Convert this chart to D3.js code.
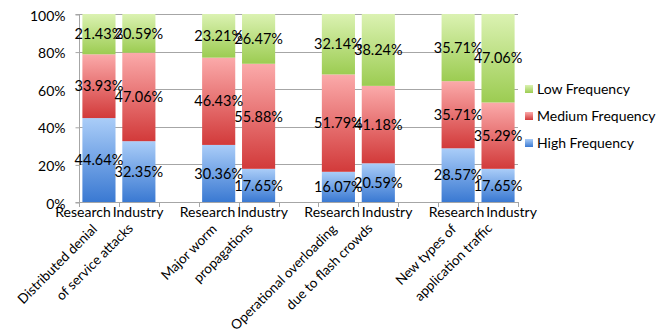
<!DOCTYPE html>
<html>
<head>
<meta charset="utf-8">
<script src="https://cdn.jsdelivr.net/npm/d3@7"></script>
<style>
  html, body { margin: 0; padding: 0; background: #fff; }
  svg text { font-family: Lato, "Open Sans", sans-serif; fill: #000; }
</style>
</head>
<body>
<svg id="chart" width="665" height="334"></svg>
<script>
// Survey categories (two lines each for the rotated axis labels)
const categories = [
  ["Distributed denial", "of service attacks"],
  ["Major worm", "propagations"],
  ["Operational overloading", "due to flash crowds"],
  ["New types of", "application traffic"]
];
const groups = ["Research", "Industry"];
const seriesNames = ["High Frequency", "Medium Frequency", "Low Frequency"];

// Percentages per category, Research then Industry
const highFreq   = [[44.64, 32.35], [30.36, 17.65], [16.07, 20.59], [28.57, 17.65]];
const mediumFreq = [[33.93, 47.06], [46.43, 55.88], [51.79, 41.18], [35.71, 35.29]];
const lowFreq    = [[21.43, 20.59], [23.21, 26.47], [32.14, 38.24], [35.71, 47.06]];

const yTicks = [0, 20, 40, 60, 80, 100];

const svg = d3.select("#chart");
const plotLeft = 79, plotRight = 518, plotTop = 14, plotBottom = 202;

// Flatten into one row per bar
const rows = [];
categories.forEach((c, ci) => {
  groups.forEach((g, gi) => {
    rows.push({
      cat: ci, group: g,
      "High Frequency": highFreq[ci][gi],
      "Medium Frequency": mediumFreq[ci][gi],
      "Low Frequency": lowFreq[ci][gi]
    });
  });
});

const x0 = d3.scaleBand().domain(d3.range(categories.length))
  .range([plotLeft, plotRight]).paddingInner(1 / 3).paddingOuter(0);
const x1 = d3.scaleBand().domain(groups)
  .range([0, x0.bandwidth()]).paddingInner(0.17).paddingOuter(0.085);
const slot = x0.bandwidth() / 2;
const y = d3.scaleLinear().domain([0, 100]).range([plotBottom, plotTop]);

const colors = {
  "Low Frequency": ["#dbf2b2", "#9ccc52"],
  "Medium Frequency": ["#fbaaaa", "#d23a3a"],
  "High Frequency": ["#aacdf8", "#3a79d2"]
};

const defs = svg.append("defs");
seriesNames.forEach((s, i) => {
  const gr = defs.append("linearGradient").attr("id", "grad" + i)
    .attr("x1", 0).attr("y1", 0).attr("x2", 0).attr("y2", 1);
  gr.append("stop").attr("offset", "0%").attr("stop-color", colors[s][0]);
  gr.append("stop").attr("offset", "100%").attr("stop-color", colors[s][1]);
});

// Gridlines
svg.append("g").selectAll("line").data(yTicks.filter(d => d > 0)).join("line")
  .attr("x1", plotLeft).attr("x2", plotRight)
  .attr("y1", d => Math.round(y(d)) + 0.5).attr("y2", d => Math.round(y(d)) + 0.5)
  .attr("stroke", "#a6a6a6").attr("stroke-width", 1);

// Y axis
const yAxis = d3.axisLeft(y).tickValues(yTicks).tickFormat(d => d + "%").tickSize(4).tickPadding(10);
const gy = svg.append("g").attr("transform", `translate(${plotLeft + 0.5},0.5)`).call(yAxis);
gy.select(".domain").attr("stroke", "#a6a6a6").attr("d", `M-4,${y(100)}H0V${y(0)}H-4`);
gy.selectAll(".tick line").attr("stroke", "#a6a6a6");
gy.selectAll(".tick text").attr("font-size", 14).attr("font-family", "Lato, sans-serif").attr("fill", "#000").attr("dy", "0.4em");

// Stacked bars
const stack = d3.stack().keys(seriesNames);
const stacked = stack(rows);
const barLayer = svg.append("g");
stacked.forEach((layer, li) => {
  barLayer.append("g").selectAll("rect").data(layer).join("rect")
    .attr("x", d => x0(d.data.cat) + x1(d.data.group))
    .attr("width", x1.bandwidth())
    .attr("y", d => y(d[1]))
    .attr("height", d => y(d[0]) - y(d[1]))
    .attr("fill", `url(#grad${li})`);
});

// Value labels centred in each segment
const lblLayer = svg.append("g");
stacked.forEach(layer => {
  lblLayer.append("g").selectAll("text").data(layer).join("text")
    .attr("x", d => x0(d.data.cat) + x1(d.data.group) + x1.bandwidth() / 2)
    .attr("y", d => y((d[0] + d[1]) / 2))
    .attr("dy", "0.36em")
    .attr("text-anchor", "middle")
    .attr("font-size", 14.5)
    .text(d => (d[1] - d[0]).toFixed(2) + "%");
});

// X axis line and slot ticks
const xTicks = [];
categories.forEach((c, ci) => {
  xTicks.push(x0(ci), x0(ci) + slot, x0(ci) + 2 * slot);
});
svg.append("line").attr("x1", plotLeft).attr("x2", plotRight)
  .attr("y1", plotBottom + 0.5).attr("y2", plotBottom + 0.5).attr("stroke", "#a6a6a6");
svg.append("g").selectAll("line").data(xTicks).join("line")
  .attr("x1", d => Math.round(d) + 0.5).attr("x2", d => Math.round(d) + 0.5)
  .attr("y1", plotBottom).attr("y2", plotBottom + 5).attr("stroke", "#a6a6a6");

// Group labels: Research / Industry meet at each category's middle tick
const mid = (plotLeft + plotRight) / 2;
const spread = d => mid + (d - mid) * 1.04;
const gl = svg.append("g").attr("font-size", 14);
categories.forEach((c, ci) => {
  const cx = spread(x0(ci) + slot);
  gl.append("text").attr("x", cx - 1).attr("y", 217).attr("text-anchor", "end").text(groups[0]);
  gl.append("text").attr("x", cx + 1).attr("y", 217).attr("text-anchor", "start").text(groups[1]);
});

// Rotated category labels
const cl = svg.append("g").attr("font-size", 13.5);
categories.forEach((c, ci) => {
  const cx = x0(ci) + slot;
  const offs = [[-21, 230], [15, 229]];
  c.forEach((line, li) => {
    cl.append("text")
      .attr("text-anchor", "end")
      .attr("transform", `translate(${cx + offs[li][0]},${offs[li][1]}) rotate(-45)`)
      .text(line);
  });
});

// Legend (top entry is Low Frequency)
const legendOrder = seriesNames.slice().reverse();
const lg = svg.append("g").attr("transform", "translate(525,0)");
legendOrder.forEach((s, i) => {
  const idx = seriesNames.indexOf(s);
  const row = lg.append("g").attr("transform", `translate(0,${89 + i * 27})`);
  row.append("rect").attr("x", 0).attr("y", -4).attr("width", 8).attr("height", 8)
    .attr("fill", `url(#grad${idx})`);
  row.append("text").attr("x", 12).attr("dy", "0.36em").attr("font-size", 14).text(s);
});
</script>
</body>
</html>
